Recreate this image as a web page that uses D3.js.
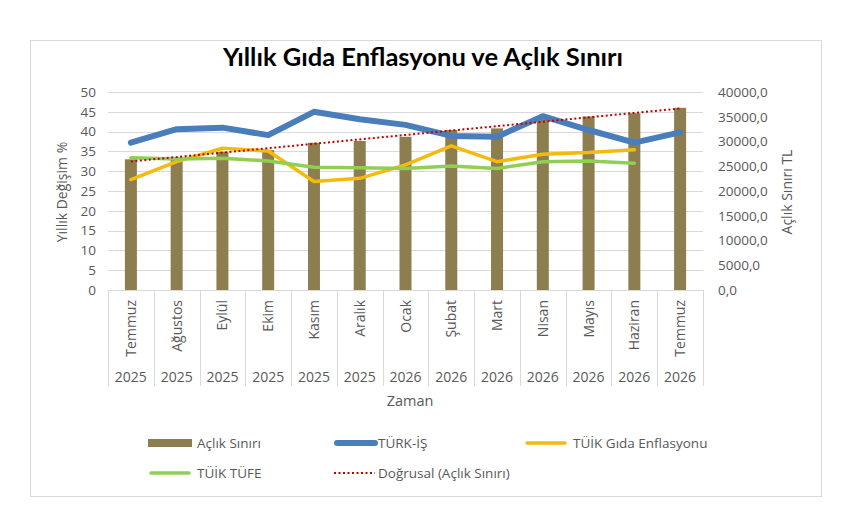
<!DOCTYPE html>
<html><head><meta charset="utf-8">
<script src="https://cdn.jsdelivr.net/npm/d3@7/dist/d3.min.js"></script>
<style>
html,body{margin:0;padding:0;background:#fff;}
svg text{font-family:"Open Sans",sans-serif;}
</style></head>
<body><svg id="c" width="850" height="520"></svg>
<script>
const months = ["Temmuz","Ağustos","Eylül","Ekim","Kasım","Aralık","Ocak","Şubat","Mart","Nisan","Mayıs","Haziran","Temmuz"];
const years = ["2025","2025","2025","2025","2025","2025","2026","2026","2026","2026","2026","2026","2026"];
const aclikSiniri = [26400,26800,27900,28250,29750,30100,30950,32300,32650,34500,35050,35700,36800];
const turkIs = [37.2,40.6,41.0,39.1,45.0,43.1,41.7,38.9,38.7,43.9,40.4,37.2,39.8];
const tuikGida = [27.9,32.4,35.8,35.1,27.4,28.2,31.6,36.4,32.4,34.3,34.7,35.4,null];
const tuikTufe = [33.4,33.1,33.3,32.6,31.0,30.9,30.7,31.3,30.7,32.4,32.6,32.0,null];
const leftTicks = [0,5,10,15,20,25,30,35,40,45,50];
const rightTicks = [0,5000,10000,15000,20000,25000,30000,35000,40000];
const legendItems = ["Açlık Sınırı","TÜRK-İŞ","TÜİK Gıda Enflasyonu","TÜİK TÜFE","Doğrusal (Açlık Sınırı)"];

const svg = d3.select("#c");
const L=108,R=703,T=92,B=290;
const idx = d3.range(months.length);
const x = d3.scaleBand().domain(idx).range([L,R]).paddingInner(0).paddingOuter(0);
const yL = d3.scaleLinear().domain([0,50]).range([B,T]);
const yR = d3.scaleLinear().domain([0,40000]).range([B,T]);
const cx = i => x(i)+x.bandwidth()/2;

svg.append("rect").attr("x",30.5).attr("y",40.5).attr("width",791).attr("height",456)
  .attr("fill","#fff").attr("stroke","#d9d9d9").attr("stroke-width",1);

svg.append("text").attr("x",423).attr("y",66).attr("text-anchor","middle")
  .style("font-family","Lato, sans-serif").style("font-weight","bold").style("font-size","25.5px").attr("fill","#000")
  .text("Yıllık Gıda Enflasyonu ve Açlık Sınırı");

svg.append("g").selectAll("line").data(leftTicks.slice(1)).join("line")
  .attr("x1",L).attr("x2",R).attr("y1",d=>Math.round(yL(d))+0.5).attr("y2",d=>Math.round(yL(d))+0.5)
  .attr("stroke","#d9d9d9").attr("stroke-width",1);

const gL = svg.append("g").attr("transform",`translate(${L-9},0)`)
  .call(d3.axisLeft(yL).tickValues(leftTicks).tickSize(0).tickPadding(3).tickFormat(d3.format("d")));
gL.select(".domain").remove();
gL.selectAll("text").style("font-size","13.5px").attr("fill","#595959").style("font-family","Open Sans, sans-serif");

const fmtR = d => d3.format("d")(d)+",0";
const gR = svg.append("g").attr("transform",`translate(${R+12},0)`)
  .call(d3.axisRight(yR).tickValues(rightTicks).tickSize(0).tickPadding(3).tickFormat(fmtR));
gR.select(".domain").remove();
gR.selectAll("text").style("font-size","13.5px").attr("fill","#595959").style("font-family","Open Sans, sans-serif");

svg.append("text").attr("transform","translate(67,192) rotate(-90)").attr("text-anchor","middle")
  .style("font-size","14px").attr("fill","#595959").text("Yıllık Değişim %");
svg.append("text").attr("transform","translate(792,192) rotate(-90)").attr("text-anchor","middle")
  .style("font-size","14px").attr("fill","#595959").text("Açlık Sınırı TL");

svg.append("line").attr("x1",L).attr("x2",R).attr("y1",B+0.5).attr("y2",B+0.5).attr("stroke","#d9d9d9");
svg.append("g").selectAll("line").data(d3.range(months.length+1)).join("line")
  .attr("x1",i=>Math.round(i<months.length? x(i):R)+0.5).attr("x2",i=>Math.round(i<months.length? x(i):R)+0.5)
  .attr("y1",B).attr("y2",386).attr("stroke","#d9d9d9");
svg.append("g").selectAll("text").data(idx).join("text")
  .attr("transform",i=>`translate(${cx(i)+5},300) rotate(-90)`).attr("text-anchor","end")
  .style("font-size","14px").attr("fill","#595959").text(i=>months[i]);
svg.append("g").selectAll("text").data(idx).join("text")
  .attr("x",i=>cx(i)).attr("y",382).attr("text-anchor","middle")
  .style("font-size","14px").attr("fill","#595959").text(i=>years[i]);
svg.append("text").attr("x",410).attr("y",406).attr("text-anchor","middle")
  .style("font-size","14.5px").attr("fill","#595959").text("Zaman");

const barW = 12;
svg.append("g").selectAll("rect").data(idx).join("rect")
  .attr("x",i=>cx(i)-barW/2).attr("width",barW)
  .attr("y",i=>yR(aclikSiniri[i])).attr("height",i=>B-yR(aclikSiniri[i]))
  .attr("fill","#8c7e4f");

function drawLine(vals,color,w){
  const ln = d3.line().defined(i=>vals[i]!=null).x(i=>cx(i)).y(i=>yL(vals[i]));
  svg.append("path").datum(idx).attr("d",ln).attr("fill","none").attr("stroke",color)
    .attr("stroke-width",w).attr("stroke-linejoin","round").attr("stroke-linecap","round");
}
drawLine(turkIs,"#4a7ebb",6);
drawLine(tuikGida,"#f5bb0c",3.5);
drawLine(tuikTufe,"#8fcf52",3.5);

const n = aclikSiniri.length;
const mx = d3.mean(idx), my = d3.mean(aclikSiniri);
const slope = d3.sum(idx,i=>(i-mx)*(aclikSiniri[i]-my))/d3.sum(idx,i=>(i-mx)*(i-mx));
const icpt = my - slope*mx;
svg.append("line").attr("x1",cx(0)).attr("x2",cx(n-1))
  .attr("y1",yR(icpt)).attr("y2",yR(icpt+slope*(n-1)))
  .attr("stroke","#c00000").attr("stroke-width",2).attr("stroke-dasharray","2,2.5");

const lg = svg.append("g");
const legPos = [[148,443],[334,443],[524,443],[148,473],[334,473]];
const lsty = [
  {type:"rect",color:"#8c7e4f"},
  {type:"line",color:"#4a7ebb",w:6},
  {type:"line",color:"#f5bb0c",w:3.5},
  {type:"line",color:"#8fcf52",w:3.5},
  {type:"dash",color:"#c00000",w:2}
];
legendItems.forEach((t,k)=>{
  const [lx,ly]=legPos[k], s=lsty[k];
  if(s.type==="rect") lg.append("rect").attr("x",lx).attr("y",ly-4).attr("width",44).attr("height",8).attr("fill",s.color);
  else lg.append("line").attr("x1",lx+(s.type==="line"?3:0)).attr("x2",lx+41).attr("y1",ly).attr("y2",ly)
    .attr("stroke",s.color).attr("stroke-width",s.w).attr("stroke-linecap",s.type==="line"?"round":"butt")
    .attr("stroke-dasharray",s.type==="dash"?"2,2.5":null);
  lg.append("text").attr("x",lx+(k===1||k===4?44:49)).attr("y",ly+5).style("font-size","13.5px").attr("fill","#595959").text(t);
});
</script></body></html>
